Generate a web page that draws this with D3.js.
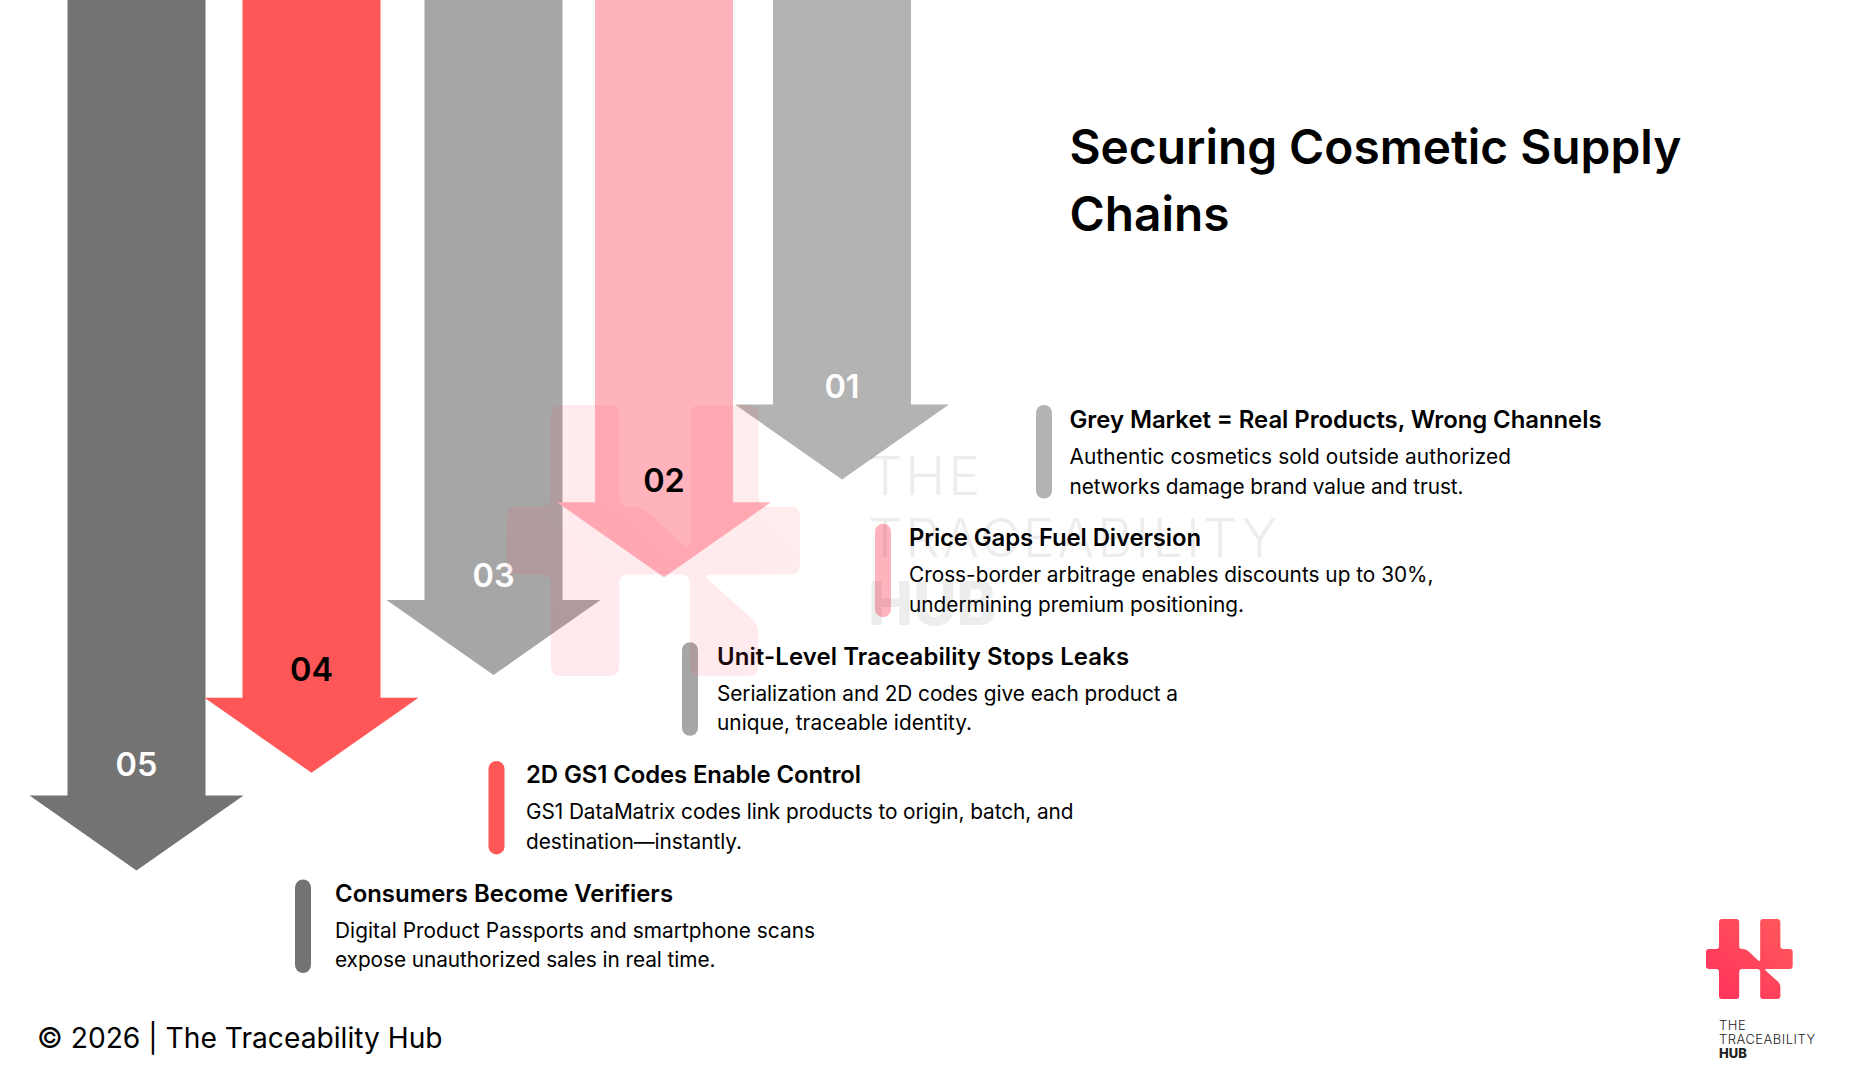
<!DOCTYPE html>
<html>
<head>
<meta charset="utf-8">
<title>Securing Cosmetic Supply Chains</title>
<script src="https://cdn.jsdelivr.net/npm/d3@7"></script>
<style>
  html, body { margin: 0; padding: 0; background: #fff; }
  svg { display: block; }
  text { font-family: Inter, "Noto Sans", sans-serif; }
</style>
</head>
<body>
<div id="canvas"></div>
<script>
/*
 * Step infographic: five falling arrows, one text block per arrow
 */

var steps = ["01", "02", "03", "04", "05"];
var stepTitles = [
  "Grey Market = Real Products, Wrong Channels",
  "Price Gaps Fuel Diversion",
  "Unit-Level Traceability Stops Leaks",
  "2D GS1 Codes Enable Control",
  "Consumers Become Verifiers"
];
var stepLines = [
  ["Authentic cosmetics sold outside authorized", "networks damage brand value and trust."],
  ["Cross-border arbitrage enables discounts up to 30%,", "undermining premium positioning."],
  ["Serialization and 2D codes give each product a", "unique, traceable identity."],
  ["GS1 DataMatrix codes link products to origin, batch, and", "destination\u2014instantly."],
  ["Digital Product Passports and smartphone scans", "expose unauthorized sales in real time."]
];
var stepColors = ["#b3b3b3", "#ffb3bd", "#a6a6a6", "#ff5757", "#737373"];
var labelColors = ["#ffffff", "#000000", "#ffffff", "#000000", "#ffffff"];
var titleLines = ["Securing Cosmetic Supply", "Chains"];
var footerText = "\u00a9 2026 | The Traceability Hub";
var brandLines = ["THE", "TRACEABILITY", "HUB"];

// H mark outline, in a 0..1 box
var logoOutline = [
  [0.15, 0], [0.383, 0], [0.383, 0.375], [0.46, 0.375], [0.625, 0.54], [0.625, 0],
  [0.858, 0], [0.858, 0.375], [1, 0.375], [1, 0.625], [0.667, 0.625], [0.858, 0.81],
  [0.858, 1], [0.625, 1], [0.625, 0.625], [0.383, 0.625], [0.383, 1], [0.15, 1],
  [0.15, 0.625], [0, 0.625], [0, 0.375], [0.15, 0.375]
];

var width = 1851, height = 1080;

// the reference font runs a little wider or narrower per line, so lines are fitted
var titleFit = [532, 292, 412, 335, 338];
var lineFit = [[441.5, 394], [524.5, 335], [461, 255], [547.5, 216], [480, 380.5]];

var svg = d3.select("#canvas").append("svg").attr("width", width).attr("height", height);

var grad = svg.append("defs").append("linearGradient").attr("id", "logo-grad")
  .attr("x1", "0%").attr("y1", "100%").attr("x2", "100%").attr("y2", "0%");
grad.append("stop").attr("offset", "0%").attr("stop-color", "#ff2f5b");
grad.append("stop").attr("offset", "100%").attr("stop-color", "#ff5c5c");

// arrows and blocks walk down the page step by step
var arrowX = d3.scaleOrdinal().domain(steps).range([842, 664, 493.5, 311.5, 136.5]);
var arrowTip = d3.scalePoint().domain(steps).range([479.5, 870.5]);
var labelY = d3.scalePoint().domain(steps).range([386, 764]);
var barX = d3.scaleOrdinal().domain(steps).range([1036, 875, 682, 488.5, 295]);
var barY = d3.scalePoint().domain(steps).range([405, 879.5]);
var textX = d3.scaleOrdinal().domain(steps).range([1069.5, 909, 717, 526, 335]);
var textY = d3.scalePoint().domain(steps).range([405, 878.5]);

var shaftHalf = 69, headHalf = 107, headDepth = 75;

/*
 * Polygon with rounded corners
 */
function roundedPath(points, r) {
  var path = d3.path();
  var n = points.length;
  points.forEach(function (p, i) {
    var prev = points[(i + n - 1) % n], next = points[(i + 1) % n];
    var d1 = Math.hypot(prev[0] - p[0], prev[1] - p[1]);
    var d2 = Math.hypot(next[0] - p[0], next[1] - p[1]);
    var r1 = Math.min(r, d1 / 2), r2 = Math.min(r, d2 / 2);
    var a = [p[0] + (prev[0] - p[0]) * r1 / d1, p[1] + (prev[1] - p[1]) * r1 / d1];
    var b = [p[0] + (next[0] - p[0]) * r2 / d2, p[1] + (next[1] - p[1]) * r2 / d2];
    if (i === 0) path.moveTo(a[0], a[1]); else path.lineTo(a[0], a[1]);
    path.quadraticCurveTo(p[0], p[1], b[0], b[1]);
  });
  path.closePath();
  return path.toString();
}

function drawLogo(x0, x1, y0, y1, r, opacity) {
  var x = d3.scaleLinear().domain([0, 1]).range([x0, x1]);
  var y = d3.scaleLinear().domain([0, 1]).range([y0, y1]);
  svg.append("path")
    .attr("d", roundedPath(logoOutline.map(function (p) { return [x(p[0]), y(p[1])]; }), r))
    .attr("fill", "url(#logo-grad)")
    .attr("opacity", opacity);
}

function drawBrand(x, ys, size, hubSize, spacing, fill, opacity) {
  svg.selectAll(null).data(brandLines).enter().append("text")
    .attr("x", x)
    .attr("y", function (d, i) { return ys[i]; })
    .attr("font-size", function (d, i) { return i === 2 ? hubSize : size; })
    .attr("font-weight", function (d, i) { return i === 2 ? 800 : 300; })
    .attr("letter-spacing", function (d, i) { return i === 2 ? 0 : spacing; })
    .attr("fill", fill)
    .attr("opacity", opacity)
    .text(function (d) { return d; });
}

// arrows, last step at the back
svg.append("g").selectAll("path").data(steps.slice().reverse()).enter().append("path")
  .attr("d", function (d) {
    var cx = arrowX(d), tip = arrowTip(d), top = tip - headDepth;
    return d3.line()([
      [cx - shaftHalf, 0], [cx + shaftHalf, 0], [cx + shaftHalf, top], [cx + headHalf, top],
      [cx, tip], [cx - headHalf, top], [cx - shaftHalf, top]
    ]) + "Z";
  })
  .attr("fill", function (d) { return stepColors[steps.indexOf(d)]; });

svg.append("g").selectAll("text").data(steps).enter().append("text")
  .attr("x", function (d) { return arrowX(d); })
  .attr("y", function (d) { return labelY(d); })
  .attr("dy", "0.36em")
  .attr("text-anchor", "middle")
  .attr("font-size", 32.5)
  .attr("font-weight", 600)
  .attr("fill", function (d, i) { return labelColors[i]; })
  .text(function (d) { return d; });

// text blocks
svg.append("g").selectAll("rect").data(steps).enter().append("rect")
  .attr("x", function (d) { return barX(d); })
  .attr("y", function (d) { return barY(d); })
  .attr("width", 16).attr("height", 93.5).attr("rx", 8)
  .attr("fill", function (d, i) { return stepColors[i]; });

var blocks = svg.append("g").selectAll("g").data(steps).enter().append("g")
  .attr("transform", function (d) { return "translate(" + textX(d) + "," + textY(d) + ")"; });

blocks.append("text")
  .attr("y", 23)
  .attr("font-size", 23.9).attr("font-weight", 600).attr("fill", "#000")
  .attr("textLength", function (d, i) { return titleFit[i]; })
  .text(function (d, i) { return stepTitles[i]; });

blocks.each(function (d, i) {
  d3.select(this).selectAll("text.line").data(stepLines[i]).enter().append("text")
    .attr("class", "line")
    .attr("y", function (l, j) { return 59 + j * 29.5; })
    .attr("font-size", 20.8)
    .attr("fill", "#000")
    .attr("textLength", function (l, j) { return lineFit[i][j]; })
    .text(function (l) { return l; });
});

// watermark sits over everything, faint enough to read through
drawLogo(507, 800, 405, 676, 10, 0.11);
drawBrand(868, [495, 557, 625], 54, 60, 3, "#444", 0.09);

svg.append("g").selectAll("text").data(titleLines).enter().append("text")
  .attr("x", 1069.5)
  .attr("y", function (d, i) { return 164 + i * 66.5; })
  .attr("font-size", 47.8)
  .attr("font-weight", 600)
  .attr("fill", "#000")
  .text(function (d) { return d; });

svg.append("text")
  .attr("x", 37).attr("y", 1047.5)
  .attr("font-size", 28.2)
  .attr("fill", "#000")
  .text(footerText);

// corner logo
drawLogo(1706, 1792.7, 919, 999, 3, 1);
drawBrand(1719, [1030, 1044, 1058], 13, 13, 0.5, "#222", 1);
</script>
</body>
</html>
